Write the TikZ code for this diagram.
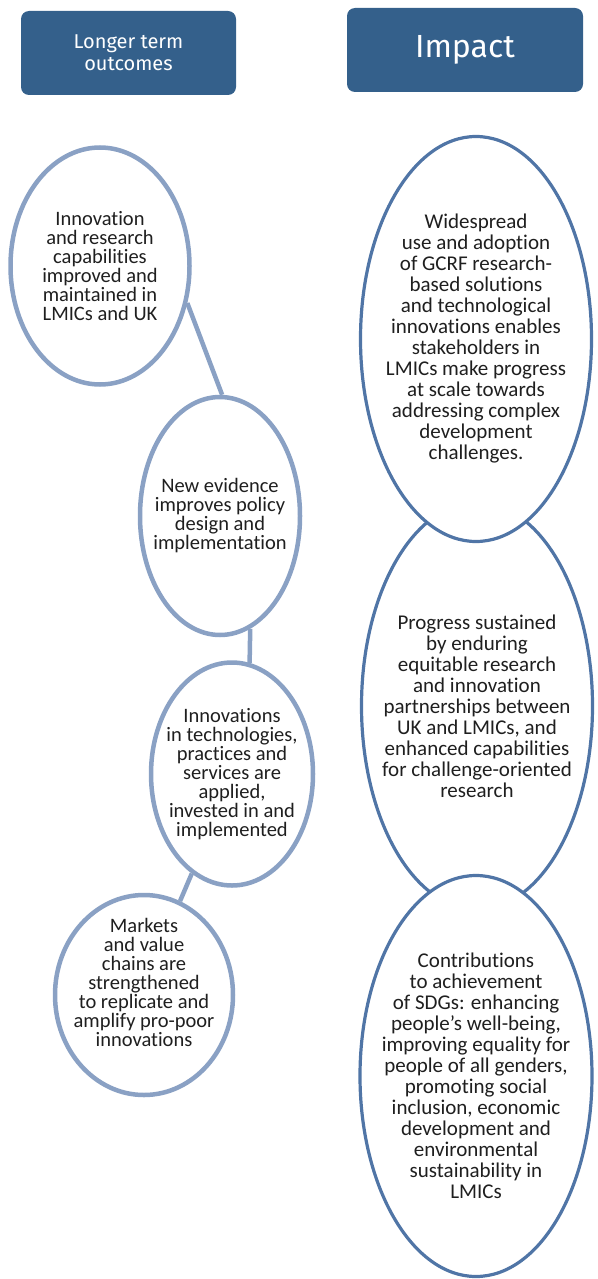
\documentclass[tikz,border=0pt]{standalone}
\usepackage{fontspec}
\setmainfont{Carlito}[Ligatures=CommonOff]
\newfontfamily\headfont{Fira Sans}
\usetikzlibrary{shapes.geometric, positioning, calc}

\definecolor{headblue}{RGB}{52,96,139}
\definecolor{outcomeline}{RGB}{138,161,196}
\definecolor{impactline}{RGB}{80,117,166}

\begin{document}
\begin{tikzpicture}[
    x=1pt, y=-1pt,
    header/.style={fill=headblue, rounded corners=8pt, text=white, align=center, inner sep=0pt},
    outcome/.style={ellipse, draw=outcomeline, line width=4.5pt, fill=white, inner sep=0pt},
    impact/.style={ellipse, draw=impactline, line width=3.2pt, fill=white, inner sep=0pt},
    outtext/.style={align=center, text=black!88, font=\fontsize{20.5}{19}\selectfont, inner sep=0pt},
    imptext/.style={align=center, text=black!88, font=\fontsize{21}{21}\selectfont, inner sep=0pt},
    link/.style={draw=outcomeline, line width=4.5pt}
]

    \useasboundingbox (0,0) rectangle (597,1279);

    % Column headers
    \node[header, minimum width=215, minimum height=84, font=\headfont\fontsize{20}{22}\selectfont] (hdout) at (128.5,53) {Longer term\\outcomes};
    \node[header, minimum width=236, minimum height=84, font=\headfont\fontsize{32}{34}\selectfont] (hdimp) at (465,50) {Impact};

    % Longer term outcomes
    \node[outcome, minimum width=179, minimum height=237] (oc1) at (100,266) {};
    \node[outcome, minimum width=160, minimum height=238] (oc2) at (220,516) {};
    \node[outcome, minimum width=162, minimum height=223] (oc3) at (232,774) {};
    \node[outcome, minimum width=178, minimum height=200] (oc4) at (144,995) {};

    \draw[link] (oc1.-23) -- (oc2.89);
    \draw[link] (oc2.-75) -- (oc3.81);
    \draw[link] (oc3.-112) -- (oc4.69);

    \node[outtext] (oc1t) at (oc1.center) {Innovation\\and research\\capabilities\\improved and\\maintained in\\LMICs and UK};
    \node[outtext] (oc2t) at (oc2.center) {New evidence\\improves policy\\design and\\implementation};
    \node[outtext] (oc3t) at (oc3.center) {Innovations\\in technologies,\\practices and\\services are\\applied,\\invested in and\\implemented};
    \node[outtext] (oc4t) at ($(oc4.center)+(0,-13)$) {Markets\\and value\\chains are\\strengthened\\to replicate and\\amplify pro-poor\\innovations};

    % Impact (middle one sits behind the others)
    \node[impact, minimum width=231, minimum height=407] (im2) at (477,706) {};
    \node[impact, minimum width=231, minimum height=405] (im1) at (476,339) {};
    \node[impact, minimum width=232, minimum height=401] (im3) at (476,1076) {};

    \node[imptext] (im1t) at (im1.center) {Widespread\\use and adoption\\of GCRF research-\\based solutions\\and technological\\innovations enables\\stakeholders in\\LMICs make progress\\at scale towards\\addressing complex\\development\\challenges.};
    \node[imptext] (im2t) at (im2.center) {Progress sustained\\by enduring\\equitable research\\and innovation\\partnerships between\\UK and LMICs, and\\enhanced capabilities\\for challenge-oriented\\research};
    \node[imptext] (im3t) at (im3.center) {Contributions\\to achievement\\of SDGs: enhancing\\people’s well-being,\\improving equality for\\people of all genders,\\promoting social\\inclusion, economic\\development and\\environmental\\sustainability in\\LMICs};

\end{tikzpicture}
\end{document}
